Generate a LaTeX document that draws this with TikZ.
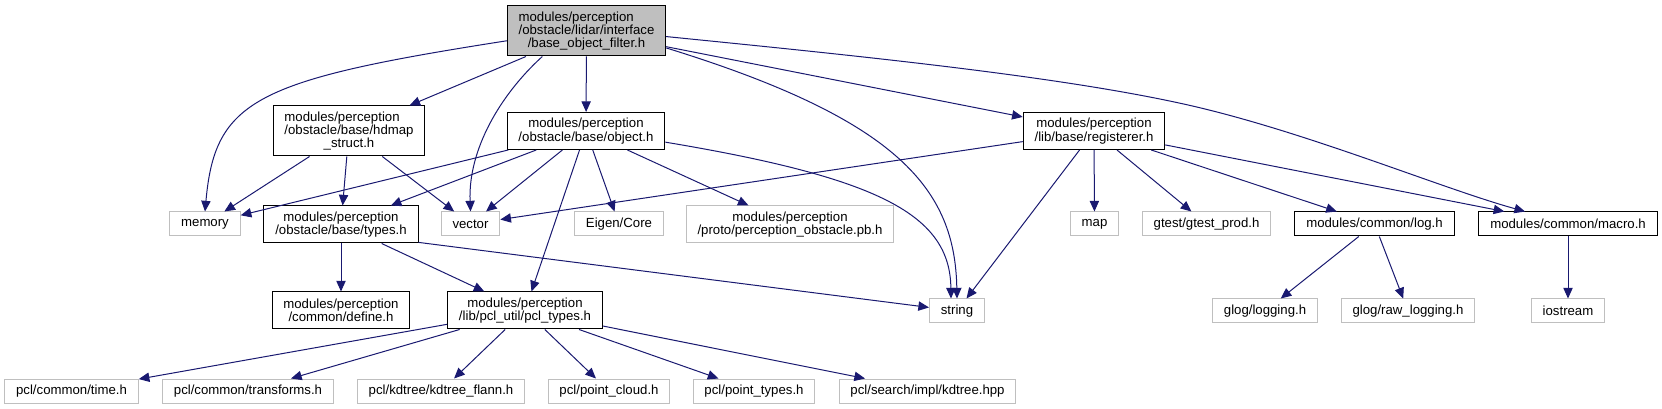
\documentclass[tikz,border=0pt]{standalone}
\usepackage{fontspec}
\setmainfont{Liberation Sans}
\usetikzlibrary{arrows.meta}
\definecolor{edgeblue}{HTML}{191970}
\definecolor{extgray}{HTML}{BFBFBF}
\newlength{\padlen}
\newcommand{\padline}[2]{\settowidth{\padlen}{#2}\makebox[\padlen][l]{#1}}

\begin{document}
\begin{tikzpicture}[
    x=0.75pt, y=-0.75pt,
    file/.style={draw, line width=0.75pt, align=center, inner xsep=8.5pt, inner ysep=0pt, minimum height=18pt, font=\fontsize{9.9}{10}\selectfont},
    ext/.style={file, draw=extgray},
    two/.style={minimum height=27.75pt},
    three/.style={minimum height=37.5pt},
    dep/.style={-{Triangle[length=8pt,width=7pt]}, draw=edgeblue, line width=0.75pt}
]
\useasboundingbox (0,0) rectangle (1662,409);

% top and second row
\node[file, three, fill=extgray] (root) at (586.5,31) {\padline{modules/perception}{/obstacle/lidar/interface}\\/obstacle/lidar/interface\\/base\_object\_filter.h};
\node[file, three] (hdmap) at (349,131) {\padline{modules/perception}{/obstacle/base/hdmap}\\/obstacle/base/hdmap\\\_struct.h};
\node[file, two] (object) at (586,131) {modules/perception\\/obstacle/base/object.h};
\node[file, two] (registerer) at (1094,131) {modules/perception\\/lib/base/registerer.h};

% third row
\node[ext] (memory) at (205,224) {memory};
\node[file, two] (types) at (341,224.5) {modules/perception\\/obstacle/base/types.h};
\node[ext] (vector) at (470.5,224) {vector};
\node[ext] (eigen) at (619,224) {Eigen/Core};
\node[ext, two] (pbh) at (790,224.5) {modules/perception\\/proto/perception\_obstacle.pb.h};
\node[ext] (map) at (1094.5,224) {map};
\node[ext] (gtest) at (1206.5,224) {gtest/gtest\_prod.h};
\node[file] (log) at (1374.5,224) {modules/common/log.h};
\node[file] (macro) at (1568,224) {modules/common/macro.h};

% fourth row
\node[file, two] (define) at (341,310.5) {modules/perception\\/common/define.h};
\node[file, two] (pcltypes) at (525,310.5) {modules/perception\\/lib/pcl\_util/pcl\_types.h};
\node[ext] (string) at (957,311) {string};
\node[ext] (logging) at (1265,311) {glog/logging.h};
\node[ext] (rawlogging) at (1408,311) {glog/raw\_logging.h};
\node[ext] (iostream) at (1568,311) {iostream};

% bottom row
\node[ext] (time) at (71.5,391) {pcl/common/time.h};
\node[ext] (transforms) at (248,391) {pcl/common/transforms.h};
\node[ext] (flann) at (441,391) {pcl/kdtree/kdtree\_flann.h};
\node[ext] (pointcloud) at (609,391) {pcl/point\_cloud.h};
\node[ext] (pointtypes) at (754,391) {pcl/point\_types.h};
\node[ext] (kdtree) at (927.5,391) {pcl/search/impl/kdtree.hpp};

% includes of the root file
\draw[dep] (root.187) .. controls (255,80) and (215,100) .. (memory.north);
\draw[dep] (root) -- (hdmap);
\draw[dep] (root.210) .. controls (500,95) and (468,150) .. (vector.north);
\draw[dep] (root) -- (object);
\draw[dep] (root.-12) .. controls (900,120) and (955,190) .. (string.north);
\draw[dep] (root) -- (registerer);
\draw[dep] (root.-4) .. controls (850,55) and (1050,75) .. (1179,103)
    .. controls (1300,129) and (1440,188) .. ([xshift=35pt]macro.north west);

% hdmap_struct.h
\draw[dep] (hdmap) -- (memory);
\draw[dep] (hdmap) -- (types);
\draw[dep] (hdmap) -- (vector);

% object.h
\draw[dep] (object) -- (memory);
\draw[dep] (object) -- (types);
\draw[dep] (object) -- (vector);
\draw[dep] (object) -- (eigen);
\draw[dep] (object) -- (pbh);
\draw[dep] (object.-8) .. controls (880,178) and (950,215) .. ([xshift=-4.5pt]string.north);
\draw[dep] (object) -- (pcltypes);

% registerer.h
\draw[dep] (registerer) -- (vector);
\draw[dep] (registerer) -- (string);
\draw[dep] (registerer) -- (map);
\draw[dep] (registerer) -- (gtest);
\draw[dep] (registerer) -- (log);
\draw[dep] (registerer) -- (macro);

% types.h
\draw[dep] (types) -- (define);
\draw[dep] (types) -- (pcltypes);
\draw[dep] (types.-13) -- (string);

% pcl_types.h
\draw[dep] (pcltypes) -- (time);
\draw[dep] (pcltypes) -- (transforms);
\draw[dep] (pcltypes) -- (flann);
\draw[dep] (pcltypes) -- (pointcloud);
\draw[dep] (pcltypes) -- (pointtypes);
\draw[dep] (pcltypes) -- (kdtree);

% log.h and macro.h
\draw[dep] (log) -- (logging);
\draw[dep] (log) -- (rawlogging);
\draw[dep] (macro) -- (iostream);
\end{tikzpicture}
\end{document}
